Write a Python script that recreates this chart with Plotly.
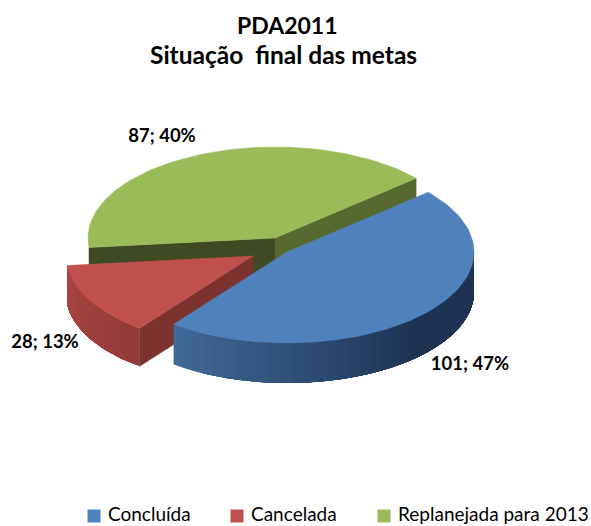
import numpy as np
import plotly.graph_objects as go

categories = ['Concluída', 'Cancelada', 'Replanejada para 2013']
values = [101, 28, 87]
percents = [47, 13, 40]

top_colors = ['#4F81BD', '#C0504D', '#9BBB59']
cut_colors = ['#1F3552', '#7C322F', '#3F4A22']
green_right_cut = '#58692F'
wall_light = [(64, 106, 155), (170, 70, 66)]
wall_dark = [(30, 51, 82), (146, 58, 55)]

# pie geometry in page pixels
first_angle = 49
rx, ry = 187, 91
depth = [40, 38, 38]
apex = [(287, 252), (253, 256), (275, 238)]
label_pos = [(470, 365), (45, 343), (162, 137)]
legend_x = [94, 237, 384]
legend_y = 516

fig = go.Figure()


def rim(a, b, n=80):
    t = np.radians(np.linspace(a, b, n))
    return np.sin(t), np.cos(t)


def point(i, ang):
    return apex[i][0] + rx * np.sin(np.radians(ang)), apex[i][1] - ry * np.cos(np.radians(ang))


def poly(xs, ys, color, line=0.0):
    fig.add_trace(go.Scatter(
        x=list(xs), y=list(ys), mode='lines', fill='toself', fillcolor=color,
        line=dict(color=color, width=line), hoverinfo='skip', showlegend=False))


def cut_face(i, ang, color):
    x0, y0 = apex[i]
    x1, y1 = point(i, ang)
    d = depth[i]
    poly([x0, x1, x1, x0, x0], [y0, y1, y1 + d, y0 + d, y0], color, 0.5)


def top_face(i, a, b):
    u, v = rim(a, b)
    x0, y0 = apex[i]
    poly(np.r_[x0, x0 + rx * u, x0], np.r_[y0, y0 - ry * v, y0], top_colors[i], 0.5)


def outer_wall(i, a, b, light_at_a, steps=36):
    # shaded wall: each strip runs on to the end and the next one paints over it, so no seams
    edges = np.linspace(a, b, steps + 1)
    for k in range(steps):
        f = (k + 0.5) / steps
        f = f if light_at_a else 1 - f
        f = min(f * 1.6, 1) if i == 0 else f
        c = [round(wall_light[i][n] + (wall_dark[i][n] - wall_light[i][n]) * f) for n in range(3)]
        u, v = rim(edges[k], b, 60)
        xs = apex[i][0] + rx * u
        ys = apex[i][1] - ry * v
        poly(np.r_[xs, xs[::-1], xs[0]], np.r_[ys, ys[::-1] + depth[i], ys[0]], f'rgb({c[0]},{c[1]},{c[2]})')


angles = first_angle + np.cumsum([0] + [v / sum(values) * 360 for v in values])

# green first, it sits behind the other two
cut_face(2, angles[2], cut_colors[2])
cut_face(2, angles[3], green_right_cut)
top_face(2, angles[2], angles[3])

# red
outer_wall(1, angles[1], angles[2], False)
cut_face(1, angles[1], cut_colors[1])
top_face(1, angles[1], angles[2])

# blue
outer_wall(0, angles[1], 90, True)
top_face(0, angles[0], angles[1])

# data labels
fig.add_trace(go.Scatter(
    x=[p[0] for p in label_pos], y=[p[1] for p in label_pos], mode='text',
    text=[f'{v}; {p}%' for v, p in zip(values, percents)],
    textposition='middle center',
    textfont=dict(family='Lato', size=18.5, color='#000000', weight='bold'),
    hoverinfo='skip', showlegend=False))

# legend row
for i, name in enumerate(categories):
    fig.add_trace(go.Scatter(
        x=[legend_x[i]], y=[legend_y], mode='markers+text', text=['\u00a0' + name],
        textposition='middle right',
        marker=dict(symbol='square', size=13, color=top_colors[i]),
        textfont=dict(family='Lato', size=19, color='#000000'),
        hoverinfo='skip', showlegend=False))

fig.add_annotation(
    x=287, y=25, xref='x', yref='y', showarrow=False,
    text='<b>PDA2011</b>', font=dict(family='Lato', size=23, color='#000000'))
fig.add_annotation(
    x=283, y=54, xref='x', yref='y', showarrow=False,
    text='<b>Situação\u00a0 final das metas</b>', font=dict(family='Lato', size=24.5, color='#000000'))

fig.update_xaxes(range=[0, 591], visible=False, fixedrange=True)
fig.update_yaxes(range=[526, 0], visible=False, fixedrange=True)
fig.update_layout(
    width=591, height=526, margin=dict(l=0, r=0, t=0, b=0),
    paper_bgcolor='white', plot_bgcolor='white', showlegend=False)

# the page's default body margin would push the chart 8px down and right
fig.write_html("out.html", config=dict(displayModeBar=False),
               post_script="document.body.style.margin='0';document.body.style.overflow='hidden';")
